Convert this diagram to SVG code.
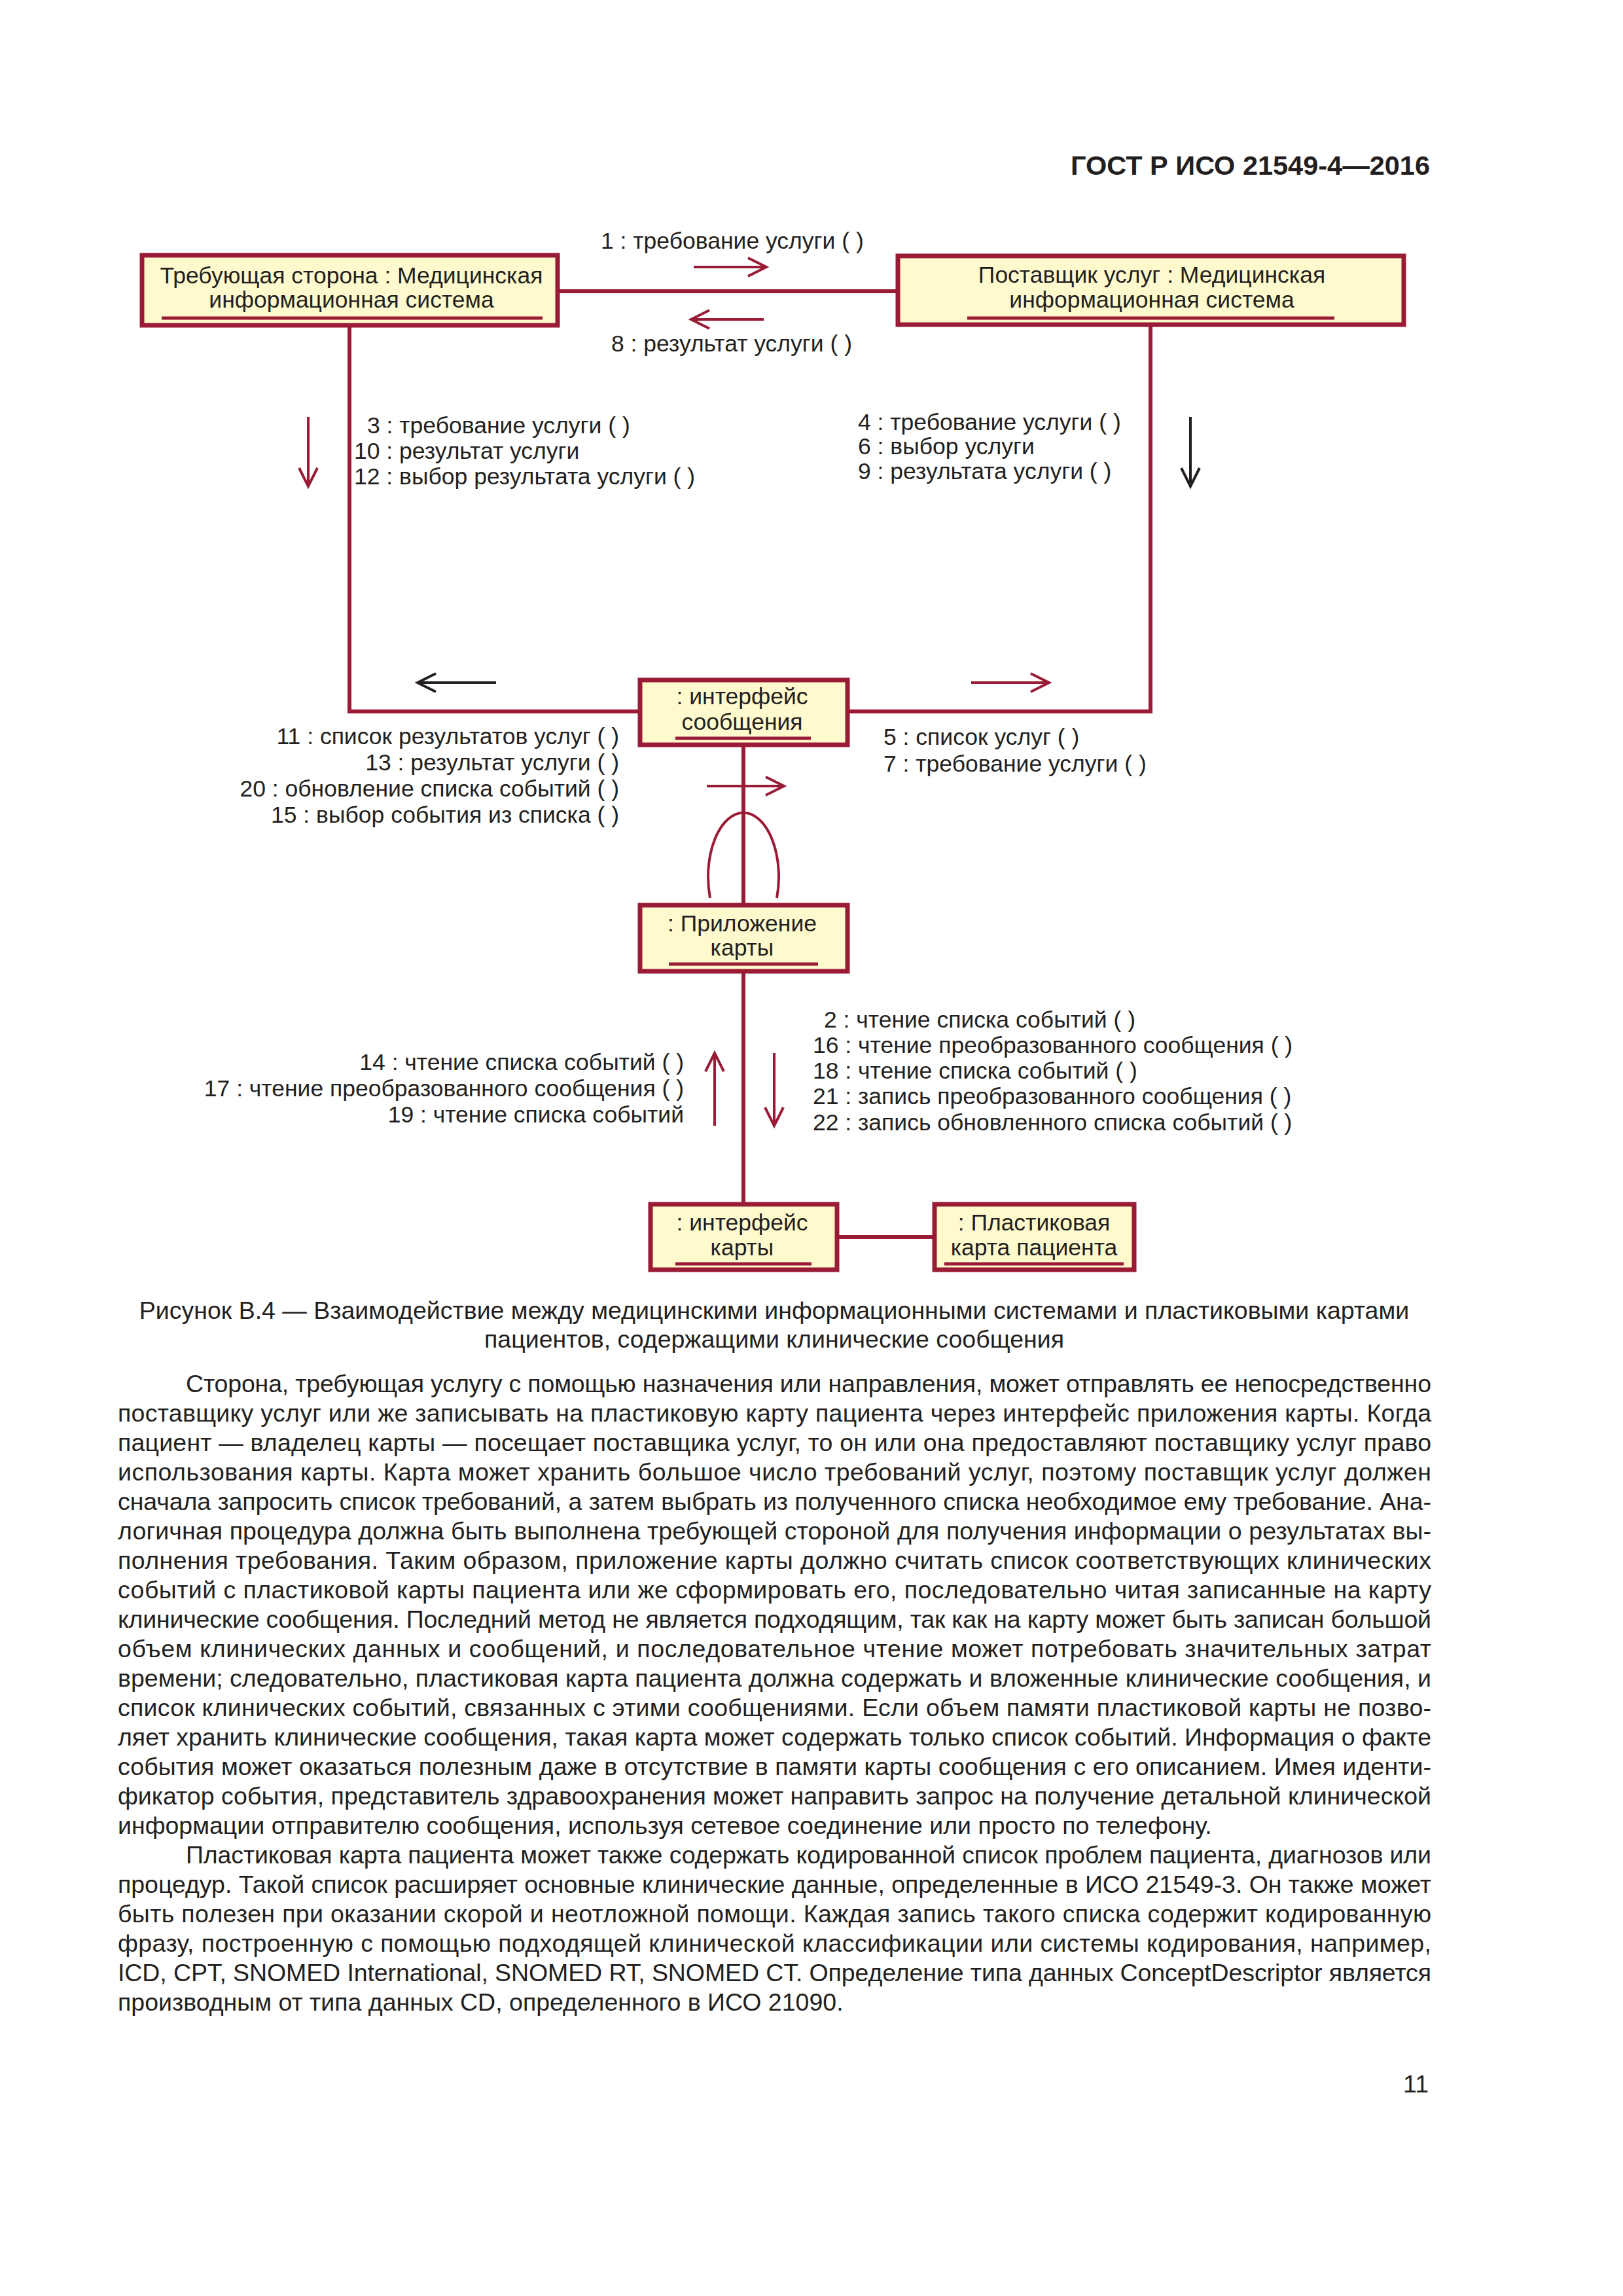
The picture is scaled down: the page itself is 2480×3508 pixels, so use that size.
<svg xmlns="http://www.w3.org/2000/svg" width="2480" height="3508" viewBox="0 0 2480 3508">
<defs>
<style>
.bg{fill:#ffffff}
.box{fill:#fffacd;stroke:#9a1b35;stroke-width:7}
.ul{stroke:#9a1b35;stroke-width:5;fill:none}
.con{stroke:#9a1b35;stroke-width:6;fill:none}
.ar{stroke:#9a1b35;stroke-width:4;fill:none}
.arb{stroke:#231f20;stroke-width:4;fill:none}
text{font-family:"Liberation Sans",Arial,sans-serif;fill:#231f20}
.t{font-size:35.5px}
.c{text-anchor:middle}
.e{text-anchor:end}
.hd{font-size:41.5px;font-weight:bold;text-anchor:end}
.body{font-size:37.5px}
</style>
</defs>
<rect class="bg" x="0" y="0" width="2480" height="3508"/>
<text class="hd" x="2185" y="267">ГОСТ Р ИСО 21549-4—2016</text>

<g id="connectors">
<line class="con" x1="855" y1="445" x2="1369" y2="445"/>
<polyline class="con" points="534,500 534,1087 975,1087"/>
<polyline class="con" points="1758,499 1758,1087 1298,1087"/>
<line class="con" x1="1136" y1="1141" x2="1136" y2="1380"/>
<line class="con" x1="1136" y1="1487" x2="1136" y2="1837"/>
<line class="con" x1="1282" y1="1890" x2="1425" y2="1890"/>
<path class="ar" d="M1085,1372 A54,98 0 1 1 1187,1372"/>
<path class="ar" d="M1060,408 H1171 M1143,394 L1171,408 L1143,422"/>
<path class="ar" d="M1167,488 H1056 M1084,474 L1056,488 L1084,502"/>
<path class="ar" d="M471,637 V743 M457,715 L471,743 L485,715"/>
<path class="arb" d="M1819,637 V743 M1805,715 L1819,743 L1833,715"/>
<path class="arb" d="M758,1043 H638 M666,1029 L638,1043 L666,1057"/>
<path class="ar" d="M1484,1043 H1603 M1575,1029 L1603,1043 L1575,1057"/>
<path class="ar" d="M1080,1201 H1198 M1170,1187 L1198,1201 L1170,1215"/>
<path class="ar" d="M1092,1720 V1609 M1078,1637 L1092,1609 L1106,1637"/>
<path class="ar" d="M1183,1609 V1720 M1169,1692 L1183,1720 L1197,1692"/>
</g>

<g id="labels">
<text class="t" x="918" y="380">1 : требование услуги ( )</text>
<text class="t" x="934" y="537">8 : результат услуги ( )</text>
<text class="t" x="561" y="662">3 : требование услуги ( )</text>
<text class="t" x="541" y="701">10 : результат услуги</text>
<text class="t" x="541" y="740">12 : выбор результата услуги ( )</text>
<text class="t" x="1311" y="657">4 : требование услуги ( )</text>
<text class="t" x="1311" y="694">6 : выбор услуги</text>
<text class="t" x="1311" y="732">9 : результата услуги ( )</text>
<text class="t e" x="946" y="1137">11 : список результатов услуг ( )</text>
<text class="t e" x="946" y="1177">13 : результат услуги ( )</text>
<text class="t e" x="946" y="1217">20 : обновление списка событий ( )</text>
<text class="t e" x="946" y="1257">15 : выбор события из списка ( )</text>
<text class="t" x="1350" y="1138">5 : список услуг ( )</text>
<text class="t" x="1350" y="1179">7 : требование услуги ( )</text>
<text class="t e" x="1045" y="1635">14 : чтение списка событий ( )</text>
<text class="t e" x="1045" y="1675">17 : чтение преобразованного сообщения ( )</text>
<text class="t e" x="1045" y="1715">19 : чтение списка событий</text>
<text class="t" x="1259" y="1570">2 : чтение списка событий ( )</text>
<text class="t" x="1242" y="1609">16 : чтение преобразованного сообщения ( )</text>
<text class="t" x="1242" y="1648">18 : чтение списка событий ( )</text>
<text class="t" x="1242" y="1687">21 : запись преобразованного сообщения ( )</text>
<text class="t" x="1242" y="1727">22 : запись обновленного списка событий ( )</text>
</g>

<g id="node-requester">
<rect class="box" x="217" y="390" width="635" height="107"/>
<text class="t c" x="537" y="433">Требующая сторона : Медицинская</text>
<text class="t c" x="537" y="470">информационная система</text>
<line class="ul" x1="247" y1="486" x2="829" y2="486"/>
</g>
<g id="node-provider">
<rect class="box" x="1372" y="391" width="773" height="105"/>
<text class="t c" x="1760" y="432">Поставщик услуг : Медицинская</text>
<text class="t c" x="1760" y="470">информационная система</text>
<line class="ul" x1="1478" y1="486" x2="2039" y2="486"/>
</g>
<g id="node-msg-interface">
<rect class="box" x="978" y="1039" width="317" height="99"/>
<text class="t c" x="1134" y="1076">: интерфейс</text>
<text class="t c" x="1134" y="1115">сообщения</text>
<line class="ul" x1="1032" y1="1128" x2="1239" y2="1128"/>
</g>
<g id="node-card-app">
<rect class="box" x="978" y="1383" width="317" height="101"/>
<text class="t c" x="1134" y="1423">: Приложение</text>
<text class="t c" x="1134" y="1460">карты</text>
<line class="ul" x1="1022" y1="1473" x2="1250" y2="1473"/>
</g>
<g id="node-card-interface">
<rect class="box" x="994" y="1840" width="285" height="100"/>
<text class="t c" x="1134" y="1880">: интерфейс</text>
<text class="t c" x="1134" y="1918">карты</text>
<line class="ul" x1="1032" y1="1931" x2="1240" y2="1931"/>
</g>
<g id="node-plastic-card">
<rect class="box" x="1428" y="1840" width="305" height="100"/>
<text class="t c" x="1580" y="1880">: Пластиковая</text>
<text class="t c" x="1580" y="1918">карта пациента</text>
<line class="ul" x1="1443" y1="1931" x2="1717" y2="1931"/>
</g>

<g id="caption">
<text class="body c" x="1183" y="2015">Рисунок В.4 — Взаимодействие между медицинскими информационными системами и пластиковыми картами</text>
<text class="body c" x="1183" y="2059">пациентов, содержащими клинические сообщения</text>
</g>

<g id="body">
<text class="body" x="284" y="2127" textLength="1903" lengthAdjust="spacing">Сторона, требующая услугу с помощью назначения или направления, может отправлять ее непосредственно</text>
<text class="body" x="180" y="2172" textLength="2007" lengthAdjust="spacing">поставщику услуг или же записывать на пластиковую карту пациента через интерфейс приложения карты. Когда</text>
<text class="body" x="180" y="2217" textLength="2007" lengthAdjust="spacing">пациент — владелец карты — посещает поставщика услуг, то он или она предоставляют поставщику услуг право</text>
<text class="body" x="180" y="2262" textLength="2007" lengthAdjust="spacing">использования карты. Карта может хранить большое число требований услуг, поэтому поставщик услуг должен</text>
<text class="body" x="180" y="2307" textLength="2007" lengthAdjust="spacing">сначала запросить список требований, а затем выбрать из полученного списка необходимое ему требование. Ана-</text>
<text class="body" x="180" y="2352" textLength="2007" lengthAdjust="spacing">логичная процедура должна быть выполнена требующей стороной для получения информации о результатах вы-</text>
<text class="body" x="180" y="2397" textLength="2007" lengthAdjust="spacing">полнения требования. Таким образом, приложение карты должно считать список соответствующих клинических</text>
<text class="body" x="180" y="2442" textLength="2007" lengthAdjust="spacing">событий с пластиковой карты пациента или же сформировать его, последовательно читая записанные на карту</text>
<text class="body" x="180" y="2487" textLength="2007" lengthAdjust="spacing">клинические сообщения. Последний метод не является подходящим, так как на карту может быть записан большой</text>
<text class="body" x="180" y="2532" textLength="2007" lengthAdjust="spacing">объем клинических данных и сообщений, и последовательное чтение может потребовать значительных затрат</text>
<text class="body" x="180" y="2577" textLength="2007" lengthAdjust="spacing">времени; следовательно, пластиковая карта пациента должна содержать и вложенные клинические сообщения, и</text>
<text class="body" x="180" y="2622" textLength="2007" lengthAdjust="spacing">список клинических событий, связанных с этими сообщениями.  Если объем памяти пластиковой карты не позво-</text>
<text class="body" x="180" y="2667" textLength="2007" lengthAdjust="spacing">ляет хранить клинические сообщения, такая карта может содержать только список событий. Информация о факте</text>
<text class="body" x="180" y="2712" textLength="2007" lengthAdjust="spacing">события может оказаться полезным даже в отсутствие в памяти карты сообщения с его описанием. Имея иденти-</text>
<text class="body" x="180" y="2757" textLength="2007" lengthAdjust="spacing">фикатор события, представитель здравоохранения может направить запрос на получение детальной клинической</text>
<text class="body" x="180" y="2802">информации отправителю сообщения, используя сетевое соединение или просто по телефону.</text>
<text class="body" x="284" y="2847" textLength="1903" lengthAdjust="spacing">Пластиковая карта пациента может также содержать кодированной список проблем пациента, диагнозов или</text>
<text class="body" x="180" y="2892" textLength="2007" lengthAdjust="spacing">процедур. Такой список расширяет основные клинические данные, определенные в ИСО 21549-3. Он также может</text>
<text class="body" x="180" y="2937" textLength="2007" lengthAdjust="spacing">быть полезен при оказании скорой и неотложной помощи. Каждая запись такого списка содержит кодированную</text>
<text class="body" x="180" y="2982" textLength="2007" lengthAdjust="spacing">фразу, построенную с помощью подходящей клинической классификации или системы кодирования, например,</text>
<text class="body" x="180" y="3027" textLength="2007" lengthAdjust="spacing">ICD, CPT, SNOMED International, SNOMED RT, SNOMED CT. Определение типа данных ConceptDescriptor является</text>
<text class="body" x="180" y="3072">производным от типа данных CD, определенного в ИСО 21090.</text>
</g>
<text class="body e" x="2183" y="3197">11</text>
</svg>
